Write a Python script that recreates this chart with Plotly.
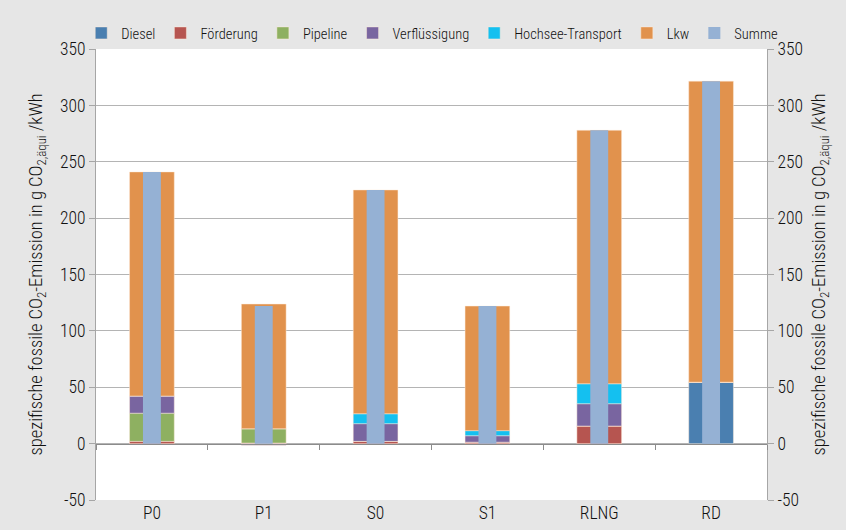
import plotly.graph_objects as go

categories = ["P0", "P1", "S0", "S1", "RLNG", "RD"]
diesel = [0, 0, 0, 0, 0, 54.5]
foerderung = [2, 0.5, 2, 1.3, 15.6, 0]
pipeline = [25, 12.7, 0, 0, 0, 0]
verfluessigung = [15.2, -1.5, 15.7, 5.7, 19.8, 0]
hochsee = [0, 0, 8.8, 4.5, 17.7, 0]
lkw = [198.8, 110.6, 198.5, 110.5, 224.8, 267]
summe = [241, 122, 225, 122, 278, 321.5]

y_ticks = [-50, 0, 50, 100, 150, 200, 250, 300, 350]
y_ticktext = ["-50", "0", "50", "100", "150", "200", "250", "300", "350"]

series = [
    ("Diesel", diesel, "#4a7fb0"),
    ("Förderung", foerderung, "#b65550"),
    ("Pipeline", pipeline, "#8eb061"),
    ("Verflüssigung", verfluessigung, "#7965a0"),
    ("Hochsee-Transport", hochsee, "#14c0f0"),
    ("Lkw", lkw, "#e1924d"),
]

FONT = "Roboto Condensed, Arial Narrow, sans-serif"
TXT = "#111111"
W = 300
BG = "#e6e6e6"

fig = go.Figure()
for name, vals, col in series:
    fig.add_trace(go.Bar(
        x=categories, y=vals, name=name, marker_color=col,
        marker_line=dict(color="rgba(255,235,220,0.6)", width=0.8),
        width=0.4, xaxis="x", yaxis="y",
    ))
fig.add_trace(go.Bar(
    x=categories, y=summe, name="Summe", marker_color="#95b1d4",
    marker_line=dict(width=0), width=0.16, xaxis="x2", yaxis="y2",
))

title_text = "spezifische fossile CO<sub>2</sub>-Emission in g CO<sub>2,äqui</sub> /kWh"
rng = [-50, 350]

fig.update_layout(
    width=846, height=530,
    paper_bgcolor=BG, plot_bgcolor="#ffffff",
    margin=dict(l=96, r=79, t=49, b=30, autoexpand=False),
    barmode="relative",
    font=dict(family=FONT, size=16, color=TXT, weight=W),
    showlegend=True,
    legend=dict(orientation="h", x=-0.022, xanchor="left", y=1.0, yanchor="bottom",
                font=dict(size=14.5, color=TXT, weight=W), bgcolor="rgba(0,0,0,0)",
                tracegroupgap=0, itemwidth=30),
    xaxis=dict(type="category", showgrid=False, showline=False, ticks="",
               tickfont=dict(size=17.5, color=TXT, weight=W), range=[-0.5, 5.5], zeroline=False),
    xaxis2=dict(type="category", overlaying="x", anchor="free", position=0.125,
                showline=True, linecolor="#8c8c8c", linewidth=1,
                ticks="outside", ticklen=5, tickcolor="#8c8c8c", tickson="boundaries",
                showticklabels=False, showgrid=False, range=[-0.5, 5.5], zeroline=False),
    yaxis=dict(range=rng, tickvals=y_ticks, ticktext=y_ticktext, showgrid=True,
               gridcolor="#b4b4b4", gridwidth=1,
               zeroline=False, showline=True, linecolor="#a6a6a6", linewidth=1,
               ticks="outside", ticklen=6, tickcolor="#a6a6a6",
               tickfont=dict(size=17.5, color=TXT, weight=W),
               title=dict(text=title_text, font=dict(size=18.5, color=TXT, weight=W), standoff=12)),
    yaxis2=dict(range=rng, tickvals=y_ticks, ticktext=y_ticktext, overlaying="y",
                side="right", anchor="x2",
                showgrid=False, zeroline=False, showline=True, linecolor="#a6a6a6", linewidth=1,
                ticks="outside", ticklen=6, tickcolor="#a6a6a6",
                tickfont=dict(size=17.5, color=TXT, weight=W),
                title=dict(text=title_text, font=dict(size=18.5, color=TXT, weight=W), standoff=10)),
)

fig.write_html(
    "out.html",
    config={"displayModeBar": False},
    post_script=(
        "document.body.style.margin='0';"
        "document.body.style.padding='0';"
        "document.body.style.overflow='hidden';"
        "document.body.style.background='" + BG + "';"
    ),
)
